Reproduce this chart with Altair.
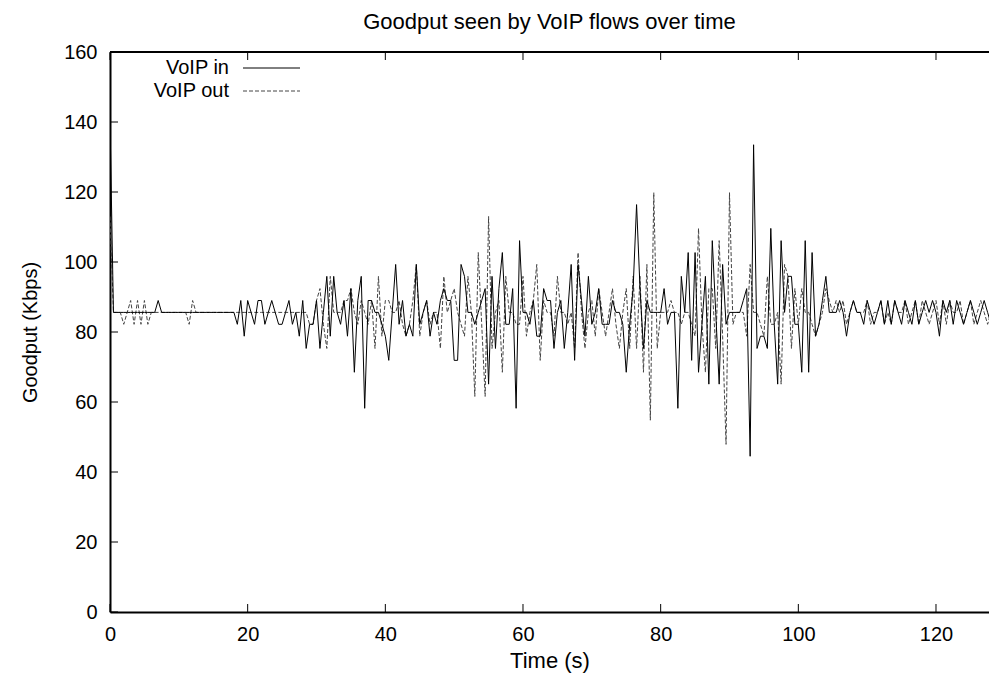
import altair as alt
import pandas as pd

# ---------------- data (Kbps, one sample every 0.5 s) ----------------
TIME_START = 0.0
TIME_STEP = 0.5

VOIP_IN = [
    140.4, 85.6, 85.6, 85.6, 85.6, 85.6, 85.6, 85.6, 85.6, 85.6,
    85.6, 85.6, 85.6, 85.6, 89.0, 85.6, 85.6, 85.6, 85.6, 85.6,
    85.6, 85.6, 85.6, 85.6, 85.6, 85.6, 85.6, 85.6, 85.6, 85.6,
    85.6, 85.6, 85.6, 85.6, 85.6, 85.6, 85.6, 82.2, 89.0, 78.8,
    89.0, 85.6, 82.2, 89.0, 89.0, 82.2, 85.6, 89.0, 85.6, 82.2,
    82.2, 85.6, 89.0, 82.2, 85.6, 78.8, 89.0, 75.3, 82.2, 82.2,
    89.0, 75.3, 85.6, 95.9, 78.8, 95.9, 85.6, 82.2, 89.0, 78.8,
    92.4, 68.5, 89.0, 95.9, 58.2, 89.0, 89.0, 85.6, 85.6, 82.2,
    78.8, 71.9, 85.6, 99.3, 82.2, 89.0, 78.8, 82.2, 78.8, 99.3,
    82.2, 85.6, 89.0, 78.8, 85.6, 82.2, 89.0, 92.4, 89.0, 89.0,
    71.9, 71.9, 99.3, 95.9, 85.6, 85.6, 82.2, 85.6, 89.0, 92.4,
    65.1, 95.9, 75.3, 92.4, 102.7, 82.2, 82.2, 92.4, 58.2, 106.1,
    85.6, 85.6, 82.2, 89.0, 78.8, 78.8, 92.4, 89.0, 89.0, 75.3,
    85.6, 89.0, 75.3, 85.6, 99.3, 71.9, 99.3, 89.0, 78.8, 95.9,
    82.2, 85.6, 92.4, 82.2, 82.2, 82.2, 89.0, 85.6, 85.6, 82.2,
    68.5, 82.2, 92.4, 116.4, 92.4, 75.3, 89.0, 85.6, 85.6, 85.6,
    85.6, 92.4, 82.2, 85.6, 85.6, 58.2, 95.9, 85.6, 102.7, 71.9,
    102.7, 68.5, 82.2, 95.9, 65.1, 106.1, 85.6, 65.1, 99.3, 82.2,
    85.6, 85.6, 85.6, 85.6, 89.0, 92.4, 44.5, 133.5, 75.3, 78.8,
    78.8, 75.3, 109.6, 82.2, 65.1, 106.1, 85.6, 95.9, 95.9, 82.2,
    82.2, 68.5, 106.1, 68.5, 102.7, 78.8, 82.2, 89.0, 95.9, 85.6,
    85.6, 85.6, 89.0, 85.6, 78.8, 85.6, 89.0, 85.6, 85.6, 82.2,
    89.0, 85.6, 82.2, 85.6, 89.0, 82.2, 89.0, 82.2, 89.0, 85.6,
    82.2, 89.0, 85.6, 82.2, 89.0, 82.2, 85.6, 89.0, 85.6, 89.0,
    85.6, 78.8, 89.0, 85.6, 89.0, 82.2, 89.0, 85.6, 82.2, 85.6,
    89.0, 85.6, 82.2, 85.6, 89.0, 85.6, 82.2, 89.0,
]

VOIP_OUT = [
    113.0, 85.6, 85.6, 85.6, 82.2, 85.6, 89.0, 82.2, 89.0, 82.2,
    89.0, 82.2, 85.6, 85.6, 85.6, 85.6, 85.6, 85.6, 85.6, 85.6,
    85.6, 85.6, 85.6, 82.2, 89.0, 85.6, 85.6, 85.6, 85.6, 85.6,
    85.6, 85.6, 85.6, 85.6, 85.6, 85.6, 85.6, 85.6, 85.6, 85.6,
    85.6, 85.6, 85.6, 85.6, 85.6, 85.6, 85.6, 85.6, 85.6, 85.6,
    85.6, 85.6, 85.6, 85.6, 85.6, 85.6, 85.6, 85.6, 82.2, 82.2,
    89.0, 92.4, 82.2, 75.3, 95.9, 85.6, 85.6, 85.6, 89.0, 89.0,
    92.4, 85.6, 82.2, 89.0, 85.6, 82.2, 89.0, 75.3, 95.9, 78.8,
    89.0, 89.0, 85.6, 85.6, 89.0, 82.2, 78.8, 82.2, 89.0, 99.3,
    78.8, 85.6, 89.0, 82.2, 85.6, 85.6, 75.3, 95.9, 85.6, 89.0,
    92.4, 85.6, 82.2, 78.8, 95.9, 85.6, 61.6, 102.7, 82.2, 61.6,
    113.0, 75.3, 85.6, 89.0, 68.5, 95.9, 85.6, 85.6, 82.2, 82.2,
    95.9, 78.8, 85.6, 89.0, 99.3, 71.9, 89.0, 85.6, 85.6, 78.8,
    95.9, 85.6, 85.6, 82.2, 85.6, 75.3, 102.7, 85.6, 75.3, 85.6,
    89.0, 78.8, 92.4, 85.6, 78.8, 85.6, 92.4, 82.2, 75.3, 85.6,
    92.4, 75.3, 95.9, 75.3, 95.9, 68.5, 99.3, 54.8, 119.8, 75.3,
    85.6, 85.6, 85.6, 89.0, 85.6, 85.6, 82.2, 85.6, 85.6, 82.2,
    78.8, 109.6, 82.2, 68.5, 92.4, 92.4, 75.3, 106.1, 78.8, 47.9,
    119.8, 82.2, 85.6, 85.6, 85.6, 78.8, 99.3, 85.6, 85.6, 82.2,
    78.8, 95.9, 82.2, 82.2, 85.6, 65.1, 99.3, 95.9, 75.3, 92.4,
    82.2, 92.4, 85.6, 85.6, 82.2, 78.8, 82.2, 85.6, 92.4, 89.0,
    85.6, 89.0, 85.6, 89.0, 82.2, 85.6, 89.0, 85.6, 85.6, 85.6,
    89.0, 82.2, 85.6, 85.6, 89.0, 82.2, 85.6, 82.2, 89.0, 85.6,
    85.6, 89.0, 82.2, 85.6, 89.0, 82.2, 89.0, 85.6, 82.2, 85.6,
    89.0, 82.2, 89.0, 82.2, 89.0, 85.6, 85.6, 89.0, 82.2, 85.6,
    89.0, 82.2, 85.6, 89.0, 85.6, 82.2, 85.6, 85.6,
]

SERIES = ["VoIP in", "VoIP out"]
X_TICKS = [0, 20, 40, 60, 80, 100, 120]
Y_TICKS = [0, 20, 40, 60, 80, 100, 120, 140, 160]
X_DOMAIN = [0, 127.7]
Y_DOMAIN = [0, 160]

# ---------------- layout / style ----------------
W, H = 879, 560
FONT = "Liberation Sans"
FS = 20
FS_TITLE = 22
TICK = 8
DASH_COLOR = "#444444"

times_in = [TIME_START + TIME_STEP * i for i in range(len(VOIP_IN))]
times_out = [TIME_START + TIME_STEP * i for i in range(len(VOIP_OUT))]
df_in = pd.DataFrame({"t": times_in, "v": VOIP_IN})
df_out = pd.DataFrame({"t": times_out, "v": VOIP_OUT})
df_xt = pd.DataFrame({"t": X_TICKS})
df_yt = pd.DataFrame({"v": Y_TICKS})
df_one = pd.DataFrame({"k": [0]})

xs = alt.Scale(domain=X_DOMAIN, nice=False, zero=False)
ys = alt.Scale(domain=Y_DOMAIN, nice=False)

x_axis = alt.Axis(
    values=X_TICKS, ticks=False, grid=False, domainColor="black", domainWidth=2,
    labelFont=FONT, labelFontSize=FS, labelColor="black", labelPadding=12,
    labelFlush=False, labelOverlap=False,
    title="Time (s)", titleFont=FONT, titleFontSize=FS_TITLE, titleFontWeight="normal",
    titleColor="black", titleY=48, titleBaseline="middle",
)
y_axis = alt.Axis(
    values=Y_TICKS, ticks=False, grid=False, domainColor="black", domainWidth=2,
    labelFont=FONT, labelFontSize=FS, labelColor="black", labelPadding=13,
    labelOverlap=False,
    title="Goodput (Kbps)", titleFont=FONT, titleFontSize=FS, titleFontWeight="normal",
    titleColor="black", titleX=-80, titleY=H / 2, titleAngle=-90,
    titleBaseline="middle", titleAlign="center",
)

X = alt.X("t:Q", scale=xs, axis=x_axis)
Y = alt.Y("v:Q", scale=ys, axis=y_axis)

line_in = alt.Chart(df_in).mark_line(color="black", strokeWidth=1, clip=True).encode(x=X, y=Y)
line_out = alt.Chart(df_out).mark_line(
    color=DASH_COLOR, strokeWidth=1, strokeDash=[4, 2], clip=True
).encode(x=X, y=Y)

left_ticks = alt.Chart(df_yt).mark_rule(color="black", strokeWidth=1).encode(
    y=Y, x=alt.value(0), x2=alt.value(TICK)
)
bottom_ticks = alt.Chart(df_xt).mark_rule(color="black", strokeWidth=1).encode(
    x=X, y=alt.value(H), y2=alt.value(H - TICK)
)
top_ticks = alt.Chart(df_xt).mark_rule(color="black", strokeWidth=1).encode(
    x=X, y=alt.value(0), y2=alt.value(TICK)
)
top_border = alt.Chart(df_one).mark_rule(color="black", strokeWidth=2).encode(
    x=alt.value(0), x2=alt.value(W), y=alt.value(0)
)

leg_txt_in = alt.Chart(df_one).mark_text(
    text=SERIES[0], align="right", baseline="middle", font=FONT, fontSize=FS, color="black"
).encode(x=alt.value(119), y=alt.value(16))
leg_txt_out = alt.Chart(df_one).mark_text(
    text=SERIES[1], align="right", baseline="middle", font=FONT, fontSize=FS, color="black"
).encode(x=alt.value(119), y=alt.value(39))
leg_line_in = alt.Chart(df_one).mark_rule(color="black", strokeWidth=1).encode(
    x=alt.value(133), x2=alt.value(190), y=alt.value(16)
)
leg_line_out = alt.Chart(df_one).mark_rule(color=DASH_COLOR, strokeWidth=1, strokeDash=[4, 2]).encode(
    x=alt.value(133), x2=alt.value(190), y=alt.value(39)
)

chart = alt.layer(
    line_out, line_in, left_ticks, bottom_ticks, top_ticks, top_border,
    leg_txt_in, leg_txt_out, leg_line_in, leg_line_out,
).properties(
    width=W, height=H,
    autosize=alt.AutoSizeParams(type="none"),
    padding={"left": 102, "top": 44, "right": 0, "bottom": 64},
    title=alt.TitleParams(
        "Goodput seen by VoIP flows over time", font=FONT, fontSize=FS_TITLE,
        fontWeight="normal", color="black", anchor="middle", offset=8,
    ),
    background="white",
).configure_view(stroke=None)

chart.save("out.html", embed_options={"renderer": "svg", "actions": False})
